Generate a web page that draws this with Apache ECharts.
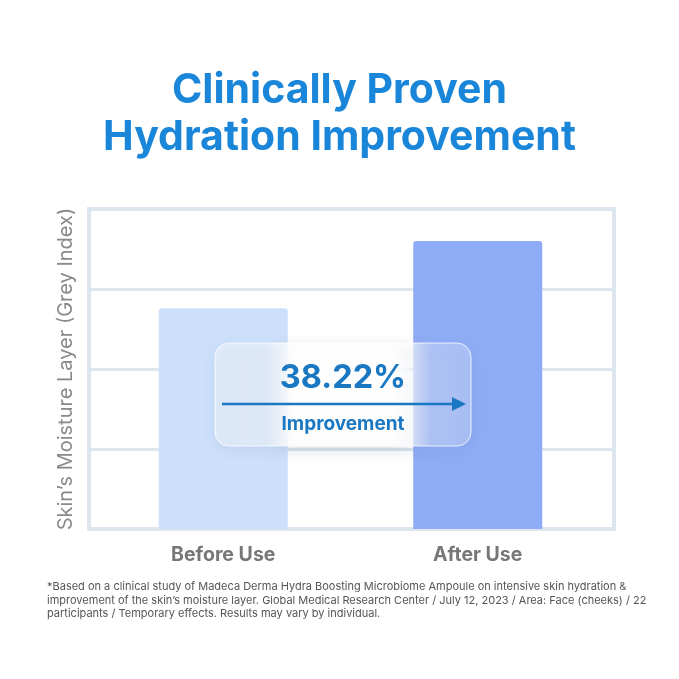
<!DOCTYPE html>
<html>
<head>
<meta charset="utf-8">
<script src="https://cdn.jsdelivr.net/npm/echarts@6/dist/echarts.min.js"></script>
<style>html,body{margin:0;padding:0;background:#fff;}#c{width:679px;height:679px;}</style>
</head>
<body>
<div id="c"></div>
<script>
const categories = ['Before Use', 'After Use'];
const moistureValues = [69, 90];
const yMin = 0, yMax = 100, yInterval = 25;
const improvementText = '38.22%';
const improvementLabel = 'Improvement';
const titleLines = ['Clinically Proven', 'Hydration Improvement'];
const yAxisName = "Skin\u2019s Moisture Layer (Grey Index)";
const footnoteLines = [
  '*Based on a clinical study of Madeca Derma Hydra Boosting Microbiome Ampoule on intensive skin hydration &',
  'improvement of the skin\u2019s moisture layer. Global Medical Research Center / July 12, 2023 / Area: Face (cheeks) / 22',
  'participants / Temporary effects. Results may vary by individual.'
];
const barColors = ['#cde0fb', '#8eabf5'];

const chart = echarts.init(document.getElementById('c'), null, {renderer: 'canvas'});
const F = 'Inter, "Noto Sans", sans-serif';
chart.setOption({
  backgroundColor: '#ffffff',
  animation: false,
  title: {
    text: titleLines.join('\n'),
    left: 'center', top: 62,
    textStyle: {color: '#1a86d9', fontSize: 41, fontWeight: 'bold', fontFamily: F, lineHeight: 47}
  },
  grid: [
    {left: 89, right: 65, top: 209, bottom: 150, show: true, borderColor: '#dde6ee', borderWidth: 4, backgroundColor: 'transparent', z: 1},
    {left: 96, right: 74, top: 209, bottom: 150, show: false}
  ],
  xAxis: [
    {gridIndex: 0, type: 'category', data: categories, show: false},
    {gridIndex: 1, type: 'category', data: categories,
      axisLine: {show: false}, axisTick: {show: false},
      axisLabel: {color: '#777777', fontSize: 19.5, fontWeight: 'bold', fontFamily: F, margin: 16}}
  ],
  yAxis: [
    {gridIndex: 0, type: 'value', min: yMin, max: yMax, interval: yInterval,
      name: yAxisName, nameLocation: 'middle', nameGap: 13,
      nameTextStyle: {color: '#8a8a8a', fontSize: 20, fontFamily: F},
      axisLine: {show: false}, axisTick: {show: false}, axisLabel: {show: false},
      splitLine: {show: true, lineStyle: {color: '#dde6ee', width: 3}}},
    {gridIndex: 1, type: 'value', min: yMin, max: yMax, interval: yInterval, show: false, splitLine: {show: false}}
  ],
  series: [{
    type: 'bar', xAxisIndex: 1, yAxisIndex: 1,
    barWidth: 129, z: 3,
    data: moistureValues.map((v, i) => ({value: v, itemStyle: {color: barColors[i], borderRadius: [3, 3, 0, 0]}}))
  }],
  graphic: [
    {type: 'rect', z: 100, shape: {x: 215, y: 343, width: 256, height: 103, r: 14},
      style: {
        fill: new echarts.graphic.LinearGradient(0, 0, 1, 0, [
          {offset: 0, color: 'rgba(255,255,255,0.42)'},
          {offset: 0.2, color: 'rgba(255,255,255,0.45)'},
          {offset: 0.31, color: 'rgba(255,255,255,0.97)'},
          {offset: 0.7, color: 'rgba(255,255,255,0.97)'},
          {offset: 0.84, color: 'rgba(255,255,255,0.3)'},
          {offset: 1, color: 'rgba(255,255,255,0.25)'}
        ]),
        stroke: 'rgba(255,255,255,0.8)', lineWidth: 1,
        shadowBlur: 14, shadowColor: 'rgba(90,110,150,0.22)', shadowOffsetY: 4
      }},
    {type: 'text', z: 101, x: 343, y: 378,
      style: {text: improvementText, fill: '#1a78c2', font: 'bold 32.5px ' + F, textAlign: 'center', textVerticalAlign: 'middle'}},
    {type: 'line', z: 101, shape: {x1: 222, y1: 404, x2: 454, y2: 404},
      style: {stroke: '#1a78c2', lineWidth: 2.5}},
    {type: 'polygon', z: 101, shape: {points: [[452, 397], [466, 404], [452, 411]]},
      style: {fill: '#1a78c2'}},
    {type: 'text', z: 101, x: 343, y: 424,
      style: {text: improvementLabel, fill: '#1a78c2', font: 'bold 19px ' + F, textAlign: 'center', textVerticalAlign: 'middle'}},
    {type: 'text', z: 101, left: 47, top: 580,
      style: {text: footnoteLines.join('\n'), fill: '#555555', font: '11px ' + F, lineHeight: 13.5}}
  ]
});
</script>
</body>
</html>
